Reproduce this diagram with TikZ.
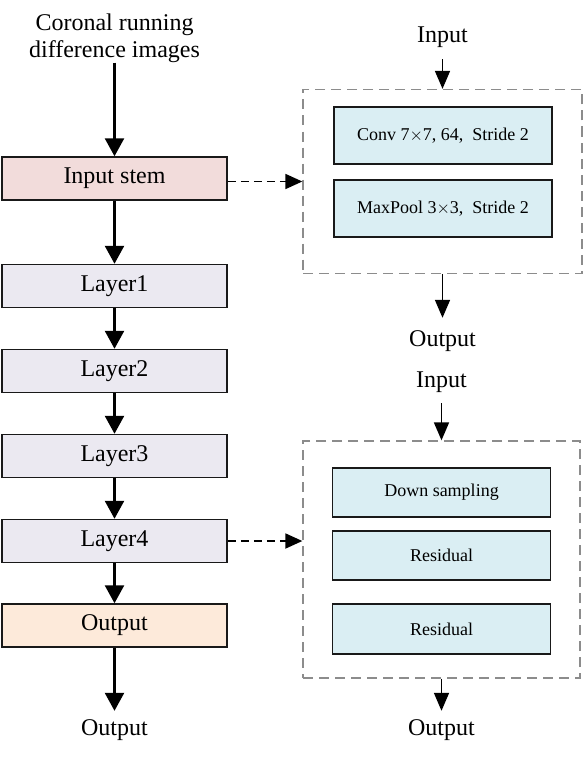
\documentclass[tikz,border=0pt]{standalone}
\usepackage{fontspec}
\setmainfont{Liberation Serif}
\usetikzlibrary{arrows.meta}

\definecolor{stemfill}{HTML}{F2DCDB}
\definecolor{layerfill}{HTML}{EBE9F1}
\definecolor{outfill}{HTML}{FDEADA}
\definecolor{opfill}{HTML}{DAEEF3}
\definecolor{framegray}{HTML}{8C8C8C}

\tikzset{
    block/.style={draw=black!90, line width=1.5pt, minimum width=225pt, minimum height=43pt, font=\fontsize{24}{27}\selectfont},
    opbox/.style={draw=black!90, line width=1.5pt, fill=opfill, minimum width=218pt, font=\fontsize{18}{20}\selectfont},
    frame/.style={draw=framegray, line width=1.3pt, dash pattern=on 10pt off 6pt},
    lbl/.style={font=\fontsize{24}{27}\selectfont, inner xsep=2pt, inner ysep=8.5pt},
    bigarrow/.style={-{Triangle[width=19pt, length=18pt]}, line width=2.6pt},
    smallarrow/.style={-{Triangle[width=15pt, length=18pt]}, line width=1.7pt},
    linkarrow/.style={-{Triangle[width=15pt, length=17pt]}, line width=1.8pt, dash pattern=on 8pt off 5pt}
}

\begin{document}
\begin{tikzpicture}[x=1pt, y=-1pt]
    \useasboundingbox (0,0) rectangle (583,757);

    % Main column
    \node[font=\fontsize{24}{27}\selectfont, align=center, inner sep=0pt] (title) at (114.5, 38) {Coronal running\\difference images};
    \node[block, fill=stemfill] (stem) at (114.5, 178.5) {Input stem};
    \node[block, fill=layerfill] (layer1) at (114.5, 286) {Layer1};
    \node[block, fill=layerfill] (layer2) at (114.5, 371) {Layer2};
    \node[block, fill=layerfill] (layer3) at (114.5, 456) {Layer3};
    \node[block, fill=layerfill] (layer4) at (114.5, 541) {Layer4};
    \node[block, fill=outfill] (outbox) at (114.5, 625.5) {Output};
    \node[lbl] (out0) at (114.5, 730) {Output};

    \draw[bigarrow] (title) -- (stem);
    \draw[bigarrow] (stem) -- (layer1);
    \draw[bigarrow] (layer1) -- (layer2);
    \draw[bigarrow] (layer2) -- (layer3);
    \draw[bigarrow] (layer3) -- (layer4);
    \draw[bigarrow] (layer4) -- (outbox);
    \draw[bigarrow] (outbox) -- (out0);

    % Input stem detail
    \node[lbl, inner ysep=11.5pt] (in1) at (442.5, 37) {Input};
    \node[frame, minimum width=279pt, minimum height=184pt] (frame1) at (442.5, 181.5) {};
    \node[opbox, minimum height=57pt] (conv) at (443, 135.5) {Conv 7$\times$7, 64,\ \ Stride 2};
    \node[opbox, minimum height=57pt] (pool) at (443, 208.5) {MaxPool 3$\times$3,\ \ Stride 2};
    \node[lbl, inner ysep=13pt] (out1) at (442.5, 341.5) {Output};

    \draw[smallarrow] (in1) -- (frame1);
    \draw[smallarrow] (frame1) -- (out1);
    \draw[linkarrow] (stem.east |- frame1.west) -- (frame1.west);

    % Layer detail
    \node[lbl, inner ysep=10.5pt] (in2) at (441.5, 382) {Input};
    \node[frame, minimum width=277pt, minimum height=237pt] (frame2) at (441.5, 559.5) {};
    \node[opbox, minimum height=49pt] (down) at (441.5, 492.5) {Down sampling};
    \node[opbox, minimum height=49pt] (res1) at (441.5, 555.5) {Residual};
    \node[opbox, minimum height=50pt] (res2) at (441.5, 629) {Residual};
    \node[lbl] (out2) at (441.5, 730) {Output};

    \draw[smallarrow] (in2) -- (frame2);
    \draw[smallarrow] (frame2) -- (out2);
    \draw[linkarrow] (layer4.east) -- (layer4.east -| frame2.west);
\end{tikzpicture}
\end{document}
